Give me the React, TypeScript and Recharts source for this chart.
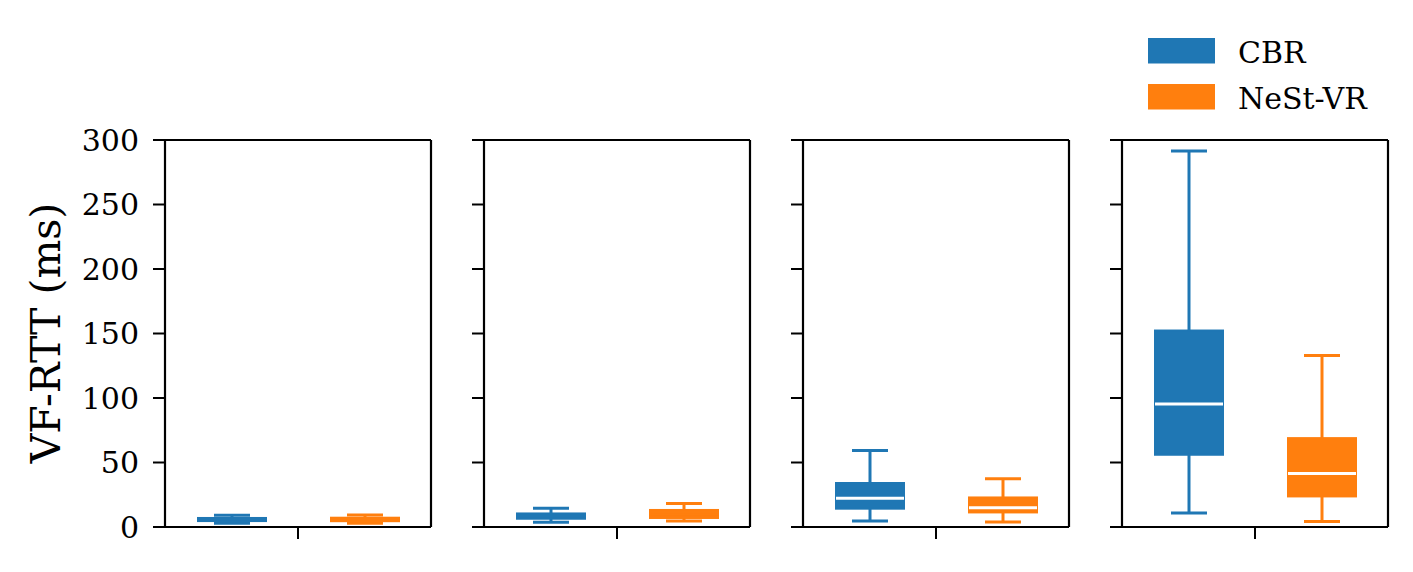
import React from 'react';
import { ComposedChart, Bar, XAxis, YAxis, ReferenceLine } from 'recharts';

// ---- data ----
const PANELS = ['P1', 'P2', 'P3', 'P4'];
const SERIES = ['CBR', 'NeSt-VR'];
const COLORS = ['#1f77b4', '#ff7f0e'];
const Y_TICKS = [0, 50, 100, 150, 200, 250, 300];
const X_TICKS = [1.5];

const CBR_MIN = [2.9, 3.6, 4.6, 10.8];
const CBR_Q1 = [4.6, 6.4, 14.2, 56.0];
const CBR_MED = [5.8, 8.5, 22.2, 95.3];
const CBR_Q3 = [7.0, 10.5, 34.1, 152.3];
const CBR_MAX = [9.1, 14.6, 59.3, 291.5];

const NEST_MIN = [3.0, 4.6, 3.9, 4.3];
const NEST_Q1 = [4.5, 7.0, 11.3, 23.7];
const NEST_MED = [6.0, 10.0, 14.9, 41.5];
const NEST_Q3 = [7.2, 13.2, 22.9, 68.9];
const NEST_MAX = [9.3, 18.3, 37.4, 132.9];

const STATS = [
  { min: CBR_MIN, q1: CBR_Q1, med: CBR_MED, q3: CBR_Q3, max: CBR_MAX },
  { min: NEST_MIN, q1: NEST_Q1, med: NEST_MED, q3: NEST_Q3, max: NEST_MAX },
];

function rowsFor(p: number) {
  return SERIES.map((name, s) => {
    const st = STATS[s];
    return {
      name,
      pos: s + 1,
      base: st.min[p],
      lw: st.q1[p] - st.min[p],
      lb: st.med[p] - st.q1[p],
      ub: st.q3[p] - st.med[p],
      uw: st.max[p] - st.q3[p],
    };
  });
}

// ---- styles ----
const FONT = '"DejaVu Serif", serif';
const PLOT_W = 266;
const PLOT_H = 387;
const PANEL_LEFTS = [165, 484, 803, 1122];
const PLOT_TOP = 140;
const YAXIS_W = 150;
const MARGIN_TOP = 20;
const MARGIN_RIGHT = 10;
const XAXIS_H = 40;
const CAP_HALF = 18;
const WHISKER_W = 3;
const BAR_SIZE = 68;
const X_DOMAIN: [number, number] = [0.5, 2.5];
const Y_DOMAIN: [number, number] = [0, 300];
const AXIS_LINE = { stroke: '#000', strokeWidth: 2.2 };
const TICK_LINE = { stroke: '#000', strokeWidth: 2 };

const EmptyShape = () => <g />;

const LowerWhisker = (props: any) => {
  const { x, y, width, height, index } = props;
  const c = COLORS[index];
  const cx = x + width / 2;
  return (
    <g>
      <line x1={cx} x2={cx} y1={y} y2={y + height} stroke={c} strokeWidth={WHISKER_W} />
      <line x1={cx - CAP_HALF} x2={cx + CAP_HALF} y1={y + height} y2={y + height} stroke={c} strokeWidth={WHISKER_W} />
    </g>
  );
};

const UpperWhisker = (props: any) => {
  const { x, y, width, height, index } = props;
  const c = COLORS[index];
  const cx = x + width / 2;
  return (
    <g>
      <line x1={cx} x2={cx} y1={y} y2={y + height} stroke={c} strokeWidth={WHISKER_W} />
      <line x1={cx - CAP_HALF} x2={cx + CAP_HALF} y1={y} y2={y} stroke={c} strokeWidth={WHISKER_W} />
    </g>
  );
};

const LowerBox = (props: any) => {
  const { x, y, width, height, index } = props;
  const c = COLORS[index];
  return <rect x={x} y={y} width={width} height={height} fill={c} stroke={c} strokeWidth={2} />;
};

const UpperBox = (props: any) => {
  const { x, y, width, height, index, payload } = props;
  const c = COLORS[index];
  const k = payload && payload.ub > 0 ? height / payload.ub : 0;
  const boxPx = k * ((payload?.lb || 0) + (payload?.ub || 0));
  return (
    <g>
      <rect x={x} y={y} width={width} height={height} fill={c} stroke={c} strokeWidth={2} />
      {boxPx > 10 ? (
        <line x1={x} x2={x + width} y1={y + height} y2={y + height} stroke="#ffffff" strokeWidth={3} />
      ) : null}
    </g>
  );
};

function Panel({ p }: { p: number }) {
  const data = rowsFor(p);
  const showLabels = p === 0;
  return (
    <div style={{ position: 'absolute', left: PANEL_LEFTS[p] - YAXIS_W, top: PLOT_TOP - MARGIN_TOP }}>
      <ComposedChart
        width={YAXIS_W + PLOT_W + MARGIN_RIGHT}
        height={MARGIN_TOP + PLOT_H + XAXIS_H}
        data={data}
        margin={{ top: MARGIN_TOP, right: MARGIN_RIGHT, bottom: 0, left: 0 }}
      >
        <XAxis
          xAxisId="num"
          dataKey="pos"
          type="number"
          domain={X_DOMAIN}
          allowDataOverflow
          ticks={X_TICKS}
          interval={0}
          tickFormatter={() => ''}
          tickSize={12}
          height={XAXIS_H}
          axisLine={AXIS_LINE}
          tickLine={TICK_LINE}
        />
        <YAxis
          yAxisId="left"
          type="number"
          domain={Y_DOMAIN}
          allowDataOverflow
          ticks={Y_TICKS}
          interval={0}
          width={YAXIS_W}
          tickSize={12}
          tickMargin={14}
          tickFormatter={(v: number) => (showLabels ? String(v) : '')}
          tick={{ fill: '#000', fontSize: 30, fontFamily: FONT }}
          axisLine={AXIS_LINE}
          tickLine={TICK_LINE}
        />
        <ReferenceLine xAxisId="num" yAxisId="left" y={Y_DOMAIN[1]} stroke="#000" strokeWidth={2.2} ifOverflow="visible" />
        <ReferenceLine xAxisId="num" yAxisId="left" x={X_DOMAIN[1]} stroke="#000" strokeWidth={2.2} ifOverflow="visible" />
        <Bar xAxisId="num" yAxisId="left" dataKey="base" stackId="box" barSize={BAR_SIZE} shape={EmptyShape} isAnimationActive={false} />
        <Bar xAxisId="num" yAxisId="left" dataKey="lw" stackId="box" barSize={BAR_SIZE} shape={LowerWhisker} isAnimationActive={false} />
        <Bar xAxisId="num" yAxisId="left" dataKey="lb" stackId="box" barSize={BAR_SIZE} shape={LowerBox} isAnimationActive={false} />
        <Bar xAxisId="num" yAxisId="left" dataKey="ub" stackId="box" barSize={BAR_SIZE} shape={UpperBox} isAnimationActive={false} />
        <Bar xAxisId="num" yAxisId="left" dataKey="uw" stackId="box" barSize={BAR_SIZE} shape={UpperWhisker} isAnimationActive={false} />
      </ComposedChart>
    </div>
  );
}

export default function App() {
  return (
    <div style={{ position: 'absolute', left: 0, top: 0, width: 1413, height: 572, background: '#fff', overflow: 'hidden' }}>
      {PANELS.map((id, p) => (
        <Panel key={id} p={p} />
      ))}
      <svg style={{ position: 'absolute', left: 0, top: 0 }} width={1413} height={572} pointerEvents="none">
        <text
          x={60}
          y={333}
          transform="rotate(-90 60 333)"
          textAnchor="middle"
          fontFamily={FONT}
          fontSize={41}
          fill="#000"
        >
          VF-RTT (ms)
        </text>
        {SERIES.map((name, i) => (
          <g key={name}>
            <rect x={1148} y={38 + i * 46} width={67} height={25.5} fill={COLORS[i]} />
            <text x={1238} y={62.5 + i * 46.5} fontFamily={FONT} fontSize={30} fill="#000">
              {name}
            </text>
          </g>
        ))}
      </svg>
    </div>
  );
}
